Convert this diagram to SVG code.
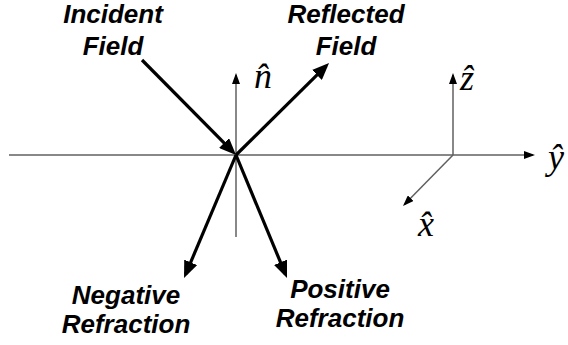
<svg xmlns="http://www.w3.org/2000/svg" width="568" height="345" viewBox="0 0 568 345">
<style>
.lbl{font-family:"Liberation Sans",Arial,sans-serif;font-weight:bold;font-style:italic;font-size:26px;fill:#000;text-anchor:middle}
.math{font-family:"Liberation Serif","Times New Roman",serif;font-style:italic;font-size:36px;fill:#000}
.axis{stroke:#606060;stroke-width:1.5;fill:none}
.ray{stroke:#000;stroke-width:3.2;fill:none}
</style>
<defs>
<marker id="thick" markerUnits="userSpaceOnUse" markerWidth="17" markerHeight="14" refX="13" refY="7" orient="auto">
<path d="M0,0 L17,7 L0,14 z" fill="#000"/>
</marker>
<marker id="thin" markerUnits="userSpaceOnUse" markerWidth="11" markerHeight="8" refX="9" refY="4" orient="auto">
<path d="M0,0 L11,4 L0,8 z" fill="#000"/>
</marker>
</defs>
<g id="connectors">
<line class="axis" x1="9" y1="155" x2="533" y2="155" marker-end="url(#thin)"/>
<line class="axis" x1="236" y1="237" x2="236" y2="75" marker-end="url(#thin)"/>
<line class="axis" x1="453" y1="155" x2="453" y2="75" marker-end="url(#thin)"/>
<line class="axis" x1="453" y1="155" x2="404.4" y2="204.6" marker-end="url(#thin)"/>
<line class="ray" x1="142" y1="60" x2="233.2" y2="152.2" marker-end="url(#thick)"/>
<line class="ray" x1="236" y1="155" x2="326.2" y2="65.8" marker-end="url(#thick)"/>
<line class="ray" x1="236" y1="155" x2="185.6" y2="274.3" marker-end="url(#thick)"/>
<line class="ray" x1="236" y1="155" x2="285.5" y2="274.3" marker-end="url(#thick)"/>
</g>
<g id="incident">
<text class="lbl" x="113" y="23">Incident</text>
<text class="lbl" x="113" y="55">Field</text>
</g>
<g id="reflected">
<text class="lbl" x="346" y="23">Reflected</text>
<text class="lbl" x="346" y="55">Field</text>
</g>
<g id="negative">
<text class="lbl" x="126" y="304">Negative</text>
<text class="lbl" x="126" y="333">Refraction</text>
</g>
<g id="positive">
<text class="lbl" x="340" y="298">Positive</text>
<text class="lbl" x="340" y="327">Refraction</text>
</g>
<g id="n-hat">
<text class="math" x="254" y="88">n&#x302;</text>
</g>
<g id="z-hat">
<text class="math" x="460" y="90">z&#x302;</text>
</g>
<g id="x-hat">
<text class="math" x="418" y="236">x&#x302;</text>
</g>
<g id="y-hat">
<text class="math" x="548" y="169">y&#x302;</text>
</g>
</svg>
